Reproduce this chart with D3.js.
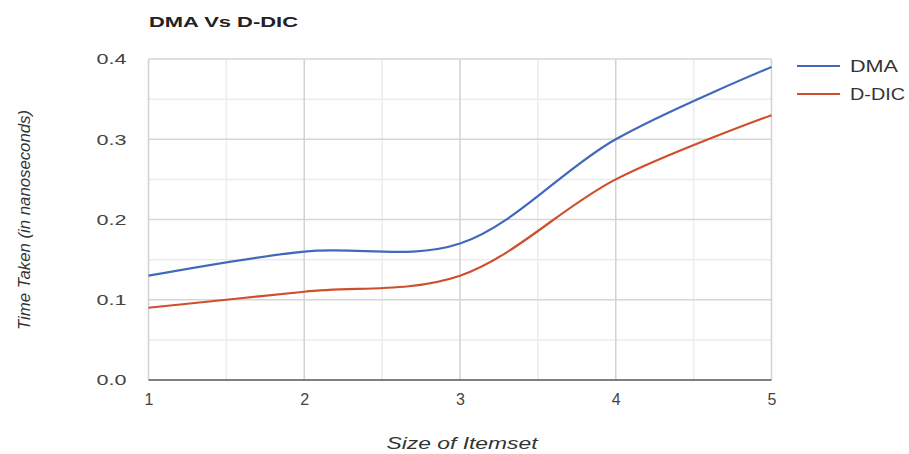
<!DOCTYPE html>
<html><head><meta charset="utf-8">
<script src="https://cdn.jsdelivr.net/npm/d3@7"></script>
<style>body{margin:0;background:#fff}svg{display:block;font-family:"Liberation Sans",Arial,sans-serif}</style>
</head><body>
<script>
const itemsetSizes = [1, 2, 3, 4, 5];
const dmaValues = [0.13, 0.16, 0.17, 0.30, 0.39];
const ddicValues = [0.09, 0.11, 0.13, 0.25, 0.33];
const seriesNames = ["DMA", "D-DIC"];
const seriesColors = ["#4169bb", "#cf4e2c"];
const yTicks = [0.0, 0.1, 0.2, 0.3, 0.4];
const yMinorTicks = [0.05, 0.15, 0.25, 0.35];
const xMinorTicks = [1.5, 2.5, 3.5, 4.5];
const titleText = "DMA Vs D-DIC";
const xTitle = "Size of Itemset";
const yTitle = "Time Taken (in nanoseconds)";

const W = 909, H = 454;
const svg = d3.select("body").append("svg").attr("width", W).attr("height", H);
const x = d3.scaleLinear().domain([1, 5]).range([148.5, 771.5]);
const y = d3.scaleLinear().domain([0, 0.4]).range([380, 59]);

// minor grid
svg.append("g").selectAll("line").data(yMinorTicks).join("line")
  .attr("x1", x(1)).attr("x2", x(5)).attr("y1", d => y(d)).attr("y2", d => y(d))
  .attr("stroke", "#ececec").attr("stroke-width", 1.5);
svg.append("g").selectAll("line").data(xMinorTicks).join("line")
  .attr("y1", y(0)).attr("y2", y(0.4)).attr("x1", d => x(d)).attr("x2", d => x(d))
  .attr("stroke", "#ececec").attr("stroke-width", 1.5);
// major grid
svg.append("g").selectAll("line").data(yTicks.slice(1)).join("line")
  .attr("x1", x(1)).attr("x2", x(5)).attr("y1", d => y(d)).attr("y2", d => y(d))
  .attr("stroke", "#d6d6d6").attr("stroke-width", 1.5);
svg.append("g").selectAll("line").data(itemsetSizes).join("line")
  .attr("y1", y(0)).attr("y2", y(0.4)).attr("x1", d => x(d)).attr("x2", d => x(d))
  .attr("stroke", "#d2d2d2").attr("stroke-width", 1.5);
// baseline
svg.append("line").attr("x1", x(1)).attr("x2", x(5)).attr("y1", y(0)).attr("y2", y(0))
  .attr("stroke", "#555").attr("stroke-width", 1.6);

// axes labels via d3 axes
const yAxis = svg.append("g").attr("transform", `translate(${x(1)},0)`)
  .call(d3.axisLeft(y).tickValues(yTicks).tickFormat(d3.format(".1f")).tickSize(0).tickPadding(22));
yAxis.select(".domain").remove();
yAxis.selectAll("text").attr("font-size", 15).attr("fill", "#444")
  .attr("font-family", "'Liberation Sans',Arial,sans-serif")
  .attr("textLength", 30).attr("lengthAdjust", "spacingAndGlyphs");

const xAxis = svg.append("g").attr("transform", `translate(0,${y(0)})`)
  .call(d3.axisBottom(x).tickValues(itemsetSizes).tickFormat(d3.format("d")).tickSize(0).tickPadding(14));
xAxis.select(".domain").remove();
xAxis.selectAll("text").attr("font-size", 16).attr("fill", "#444")
  .attr("font-family", "'Liberation Sans',Arial,sans-serif");

// lines
const line = d3.line().x(d => x(d[0])).y(d => y(d[1])).curve(d3.curveCatmullRom.alpha(0.5));
[dmaValues, ddicValues].forEach((vals, i) => {
  svg.append("path").datum(itemsetSizes.map((s, j) => [s, vals[j]]))
    .attr("d", line).attr("fill", "none").attr("stroke", seriesColors[i]).attr("stroke-width", 2.2);
});

// title
svg.append("text").attr("x", 149).attr("y", 27).text(titleText)
  .attr("font-weight", "bold").attr("font-size", 15).attr("fill", "#222")
  .attr("textLength", 149).attr("lengthAdjust", "spacingAndGlyphs");

// legend
const legW = [48, 55];
seriesNames.forEach((n, i) => {
  const ly = 66 + i * 28;
  svg.append("line").attr("x1", 797).attr("x2", 840).attr("y1", ly).attr("y2", ly)
    .attr("stroke", seriesColors[i]).attr("stroke-width", 2.2);
  svg.append("text").attr("x", 850).attr("y", ly + 6).text(n)
    .attr("font-size", 16).attr("fill", "#333")
    .attr("textLength", legW[i]).attr("lengthAdjust", "spacingAndGlyphs");
});

// axis titles
svg.append("text").attr("x", 462).attr("y", 449).attr("text-anchor", "middle").text(xTitle)
  .attr("font-style", "italic").attr("font-size", 16).attr("fill", "#333")
  .attr("textLength", 151).attr("lengthAdjust", "spacingAndGlyphs");
svg.append("text").attr("transform", "translate(30,220) rotate(-90)").attr("text-anchor", "middle").text(yTitle)
  .attr("font-style", "italic").attr("font-size", 16).attr("fill", "#333")
  .attr("textLength", 220).attr("lengthAdjust", "spacingAndGlyphs");
</script>
</body></html>
